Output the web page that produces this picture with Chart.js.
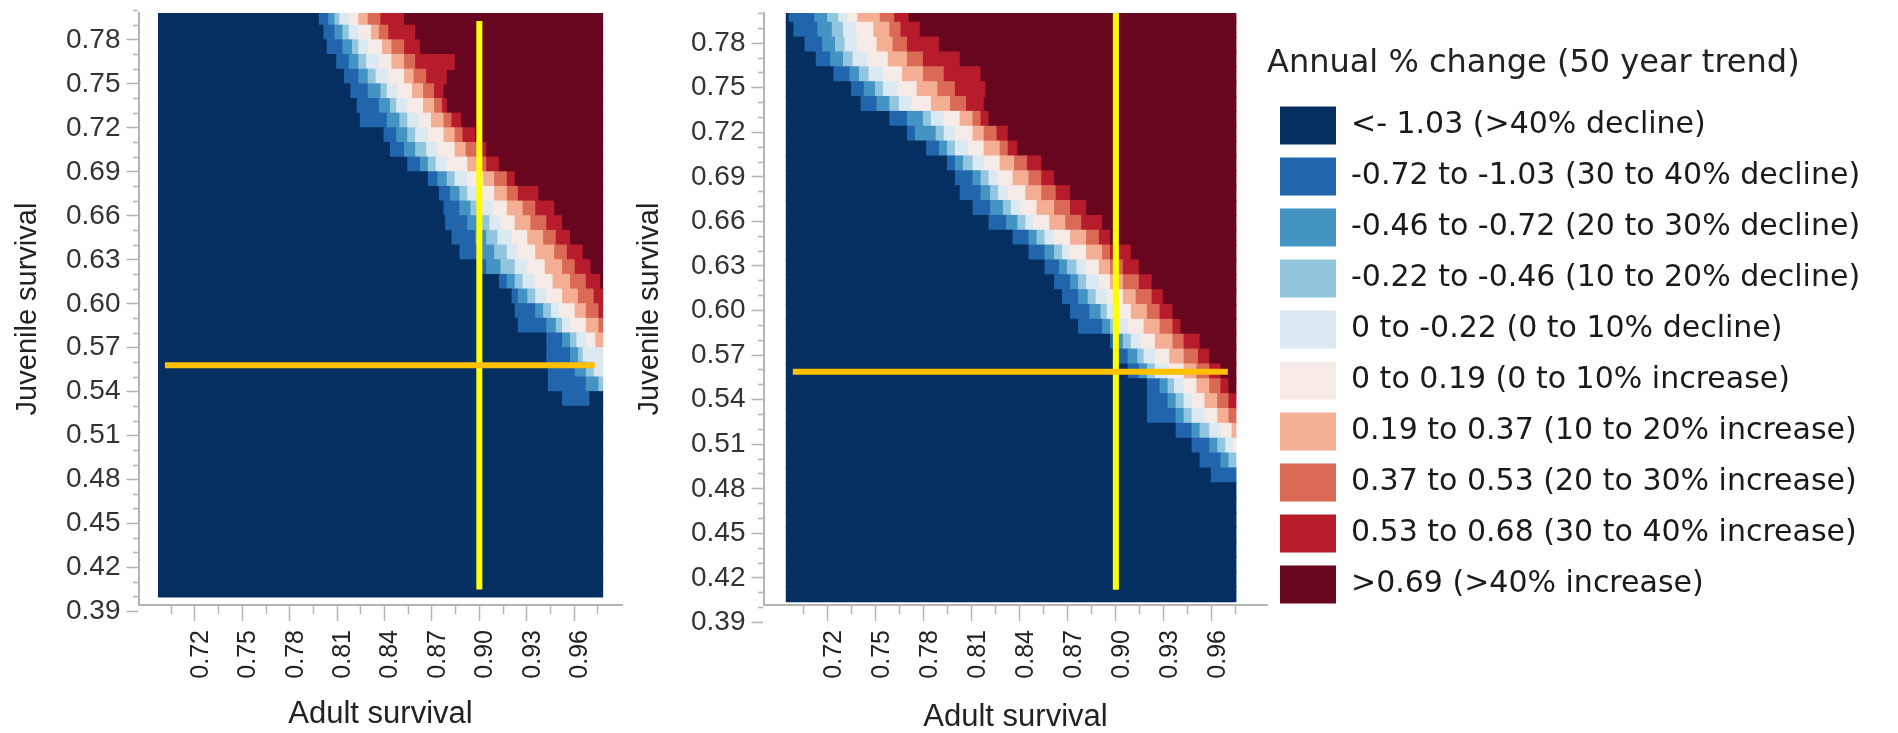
<!DOCTYPE html>
<html>
<head>
<meta charset="utf-8">
<script src="https://cdn.jsdelivr.net/npm/chart.js@4.4.1/dist/chart.umd.min.js"></script>
<style>
  html, body { margin: 0; padding: 0; background: #fff; }
  #wrap { position: relative; width: 1898px; height: 733px; overflow: hidden; }
  #leftBox { position: absolute; left: 0; top: 0; width: 625px; height: 733px; }
  #rightBox { position: absolute; left: 625px; top: 0; width: 1273px; height: 733px; }
</style>
</head>
<body>
<div id="wrap">
  <div id="leftBox"><canvas id="leftChart" width="625" height="733"></canvas></div>
  <div id="rightBox"><canvas id="rightChart" width="1273" height="733"></canvas></div>
</div>
<script>
// legend classes (annual % change)
const classLabels = [
  '<- 1.03 (>40% decline)',
  '-0.72 to -1.03 (30 to 40% decline)',
  '-0.46 to -0.72 (20 to 30% decline)',
  '-0.22 to -0.46 (10 to 20% decline)',
  '0 to -0.22 (0 to 10% decline)',
  '0 to 0.19 (0 to 10% increase)',
  '0.19 to 0.37 (10 to 20% increase)',
  '0.37 to 0.53 (20 to 30% increase)',
  '0.53 to 0.68 (30 to 40% increase)',
  '>0.69 (>40% increase)'
];
const classColors = ['#052f60', '#2166ac', '#4393c3', '#92c5de', '#dce9f1',
                     '#f6ebe7', '#f4ae93', '#da6a55', '#b71c2c', '#68061f'];

const xTickLabels = ['0.72', '0.75', '0.78', '0.81', '0.84', '0.87', '0.90', '0.93', '0.96'];
const yTickLabels = ['0.39', '0.42', '0.45', '0.48', '0.51', '0.54', '0.57', '0.60', '0.63', '0.66', '0.69', '0.72', '0.75', '0.78'];

// heat map grid: 40 rows of 0.01 juvenile survival, top row first
const rowStep = 0.01;
const rowCount = 40;
const leftRowBase = 0.40;
const rightRowBase = 0.404;
const leftExtentX = [0.697, 0.978];
const rightExtentX = [0.694, 0.975];

// per row: adult survival where class 1, 2, 3 ... begins, last value = where that run stops
const leftBreaks = [
  [0.798, 0.804, 0.808, 0.811, 0.817, 0.823, 0.829, 0.837, 0.852, 0.978],
  [0.801, 0.808, 0.813, 0.817, 0.823, 0.831, 0.836, 0.842, 0.859, 0.978],
  [0.803, 0.813, 0.819, 0.823, 0.829, 0.838, 0.844, 0.852, 0.862, 0.978],
  [0.809, 0.817, 0.823, 0.828, 0.836, 0.844, 0.852, 0.859, 0.884, 0.978],
  [0.814, 0.823, 0.829, 0.834, 0.842, 0.852, 0.858, 0.866, 0.879, 0.978],
  [0.818, 0.829, 0.837, 0.841, 0.848, 0.857, 0.864, 0.871, 0.877, 0.978],
  [0.822, 0.836, 0.843, 0.847, 0.854, 0.864, 0.871, 0.876, 0.879, 0.978],
  [0.824, 0.841, 0.849, 0.854, 0.861, 0.869, 0.877, 0.882, 0.888, 0.978],
  [0.839, 0.847, 0.854, 0.859, 0.867, 0.877, 0.884, 0.889, 0.897, 0.978],
  [0.843, 0.852, 0.859, 0.866, 0.873, 0.884, 0.891, 0.898, 0.904, 0.978],
  [0.854, 0.862, 0.867, 0.872, 0.879, 0.892, 0.900, 0.904, 0.912, 0.978],
  [0.867, 0.873, 0.879, 0.884, 0.892, 0.902, 0.909, 0.917, 0.922, 0.978],
  [0.874, 0.881, 0.887, 0.892, 0.900, 0.909, 0.917, 0.924, 0.937, 0.978],
  [0.877, 0.887, 0.894, 0.901, 0.908, 0.917, 0.927, 0.935, 0.947, 0.978],
  [0.878, 0.892, 0.900, 0.906, 0.913, 0.922, 0.932, 0.942, 0.952, 0.978],
  [0.882, 0.897, 0.904, 0.911, 0.920, 0.930, 0.940, 0.948, 0.957, 0.978],
  [0.887, 0.901, 0.909, 0.917, 0.924, 0.935, 0.947, 0.955, 0.965, 0.978],
  [0.900, 0.904, 0.913, 0.922, 0.930, 0.941, 0.952, 0.960, 0.970, 0.978],
  [0.912, 0.917, 0.922, 0.927, 0.935, 0.946, 0.957, 0.967, 0.976, 0.978],
  [0.920, 0.924, 0.930, 0.935, 0.942, 0.952, 0.962, 0.972, 0.978],
  [0.922, 0.935, 0.940, 0.945, 0.950, 0.960, 0.967, 0.975, 0.978],
  [0.924, 0.942, 0.948, 0.952, 0.957, 0.967, 0.975, 0.978],
  [0.942, 0.952, 0.957, 0.961, 0.967, 0.973, 0.978],
  [0.942, 0.957, 0.962, 0.965, 0.978],
  [0.943, 0.960, 0.967, 0.972, 0.978],
  [0.943, 0.967, 0.975, 0.978],
  [0.952, 0.970]
];

const rightBreaks = [
  [0.695, 0.711, 0.719, 0.726, 0.732, 0.738, 0.752, 0.761, 0.770, 0.975],
  [0.698, 0.713, 0.722, 0.729, 0.737, 0.748, 0.758, 0.765, 0.777, 0.975],
  [0.705, 0.716, 0.724, 0.730, 0.738, 0.750, 0.760, 0.769, 0.789, 0.975],
  [0.712, 0.721, 0.729, 0.735, 0.744, 0.757, 0.769, 0.779, 0.802, 0.975],
  [0.723, 0.733, 0.739, 0.745, 0.754, 0.766, 0.779, 0.792, 0.815, 0.975],
  [0.734, 0.742, 0.749, 0.754, 0.763, 0.775, 0.788, 0.799, 0.818, 0.975],
  [0.740, 0.750, 0.758, 0.764, 0.772, 0.784, 0.796, 0.806, 0.817, 0.975],
  [0.758, 0.769, 0.779, 0.784, 0.792, 0.802, 0.810, 0.815, 0.820, 0.975],
  [0.769, 0.774, 0.787, 0.792, 0.799, 0.810, 0.817, 0.825, 0.832, 0.975],
  [0.781, 0.789, 0.794, 0.799, 0.807, 0.817, 0.827, 0.832, 0.838, 0.975],
  [0.794, 0.799, 0.804, 0.810, 0.817, 0.827, 0.836, 0.844, 0.853, 0.975],
  [0.799, 0.810, 0.815, 0.820, 0.826, 0.835, 0.845, 0.853, 0.861, 0.975],
  [0.802, 0.815, 0.821, 0.826, 0.832, 0.843, 0.853, 0.862, 0.871, 0.975],
  [0.810, 0.821, 0.829, 0.834, 0.840, 0.850, 0.861, 0.871, 0.881, 0.975],
  [0.820, 0.831, 0.838, 0.843, 0.848, 0.858, 0.868, 0.878, 0.891, 0.975],
  [0.835, 0.845, 0.850, 0.855, 0.861, 0.871, 0.881, 0.889, 0.896, 0.975],
  [0.845, 0.855, 0.861, 0.866, 0.871, 0.881, 0.891, 0.896, 0.909, 0.975],
  [0.855, 0.864, 0.869, 0.875, 0.881, 0.889, 0.896, 0.904, 0.914, 0.975],
  [0.861, 0.871, 0.876, 0.881, 0.889, 0.896, 0.904, 0.914, 0.922, 0.975],
  [0.866, 0.876, 0.882, 0.887, 0.894, 0.904, 0.912, 0.922, 0.929, 0.975],
  [0.871, 0.883, 0.890, 0.894, 0.900, 0.909, 0.919, 0.927, 0.935, 0.975],
  [0.876, 0.891, 0.896, 0.901, 0.907, 0.917, 0.927, 0.935, 0.940, 0.975],
  [0.896, 0.899, 0.904, 0.909, 0.915, 0.924, 0.935, 0.942, 0.952, 0.975],
  [0.899, 0.907, 0.913, 0.917, 0.924, 0.933, 0.942, 0.951, 0.958, 0.975],
  [0.907, 0.914, 0.919, 0.924, 0.932, 0.942, 0.950, 0.958, 0.965, 0.975],
  [0.919, 0.927, 0.932, 0.936, 0.942, 0.950, 0.958, 0.965, 0.970, 0.975],
  [0.919, 0.932, 0.937, 0.942, 0.947, 0.955, 0.963, 0.970, 0.975],
  [0.919, 0.937, 0.942, 0.947, 0.955, 0.963, 0.970, 0.975],
  [0.937, 0.947, 0.952, 0.958, 0.965, 0.972, 0.975],
  [0.947, 0.958, 0.963, 0.968, 0.973, 0.975],
  [0.952, 0.965, 0.970, 0.975],
  [0.959, 0.975]
];

// reference lines (current adult / juvenile survival)
const refAdult = 0.90;
const leftRefJuvenile = 0.558;
const rightRefJuvenile = 0.5588;
const leftVLineY = [0.405, 0.793];
const rightVLineY = [0.412, 0.8003];
const leftHLineX = [0.701, 0.973];
const rightHLineX = [0.698, 0.970];

Chart.defaults.font.family = "'Liberation Sans', Arial, sans-serif";
const legendFamily = "'DejaVu Sans', sans-serif";

const axisGrey = '#b4b4b4';
const xMajor = xTickLabels.map(Number);
const xTickValues = xMajor.concat(xMajor.map(v => +(v - 0.015).toFixed(3)),
  [+(xMajor[xMajor.length - 1] + 0.015).toFixed(3)]).sort((a, b) => a - b);
const yMajor = yTickLabels.map(Number);
const yTickValues = yMajor.concat(...yMajor.map(v => [+(v + 0.01).toFixed(2), +(v + 0.02).toFixed(2)]))
  .sort((a, b) => a - b);

function labelFor(labels) {
  return function(v) {
    const hit = labels.find(l => Math.abs(+l - v) < 1e-6);
    return hit === undefined ? '' : hit;
  };
}
const isMinor = c => c.tick && c.tick.label === '';

function heatDatasets(breaks, base, extent) {
  const sets = classLabels.map((label, k) => ({
    type: 'bar',
    label: label,
    indexAxis: 'y',
    grouped: false,
    backgroundColor: classColors[k],
    borderWidth: 0,
    inflateAmount: 0.6,
    barPercentage: 1,
    categoryPercentage: 1,
    order: 1,
    data: []
  }));
  for (let i = 0; i < rowCount; i++) {
    const yc = Math.round((base + (rowCount - 1 - i) * rowStep + rowStep / 2) * 10000) / 10000;
    const b = breaks[i] || [];
    if (!b.length) {
      sets[0].data.push({y: yc, x: [extent[0], extent[1]]});
      continue;
    }
    if (b[0] > extent[0]) sets[0].data.push({y: yc, x: [extent[0], b[0]]});
    for (let k = 0; k < b.length - 1; k++) {
      sets[k + 1].data.push({y: yc, x: [b[k], b[k + 1]]});
    }
    const end = b[b.length - 1];
    if (end < extent[1]) sets[0].data.push({y: yc, x: [end, extent[1]]});
  }
  return sets;
}

function guideLines(vY, hX, hY) {
  return [
    {type: 'line', label: 'adult', data: [{x: refAdult, y: vY[0]}, {x: refAdult, y: vY[1]}],
     borderColor: '#ffff00', borderWidth: 6, pointRadius: 0, tension: 0, order: 0},
    {type: 'line', label: 'juvenile', data: [{x: hX[0], y: hY}, {x: hX[1], y: hY}],
     borderColor: '#ffc000', borderWidth: 6, pointRadius: 0, tension: 0, order: -1}
  ];
}

function scales(xr, yr, xTitleBottom, yTitleTop) {
  return {
    x: {
      type: 'linear', min: xr[0], max: xr[1], bounds: 'data', offset: false, beginAtZero: false,
      afterBuildTicks: s => { s.ticks = xTickValues.map(v => ({value: v})); },
      afterFit: s => { s.height = 128; s.paddingLeft = 0; s.paddingRight = 0; },
      ticks: {autoSkip: false, minRotation: 90, maxRotation: 90, padding: 9, labelOffset: 6,
              color: '#222', font: {size: 25}, callback: labelFor(xTickLabels)},
      grid: {drawOnChartArea: false, offset: false, tickLength: 16, tickWidth: 1.5, tickColor: axisGrey,
             tickBorderDash: c => isMinor(c) ? [8, 100] : []},
      border: {color: axisGrey, width: 2},
      title: {display: true, text: 'Adult survival', color: '#222',
              font: {size: 31, lineHeight: 1}, padding: {top: 0, bottom: xTitleBottom}}
    },
    y: {
      type: 'linear', min: yr[0], max: yr[1], bounds: 'data', offset: false, beginAtZero: false,
      afterBuildTicks: s => { s.ticks = yTickValues.map(v => ({value: v})); },
      afterFit: s => { s.width = 139; s.paddingTop = 0; s.paddingBottom = 0; },
      ticks: {autoSkip: false, padding: 6, color: '#333', font: {size: 28},
              callback: labelFor(yTickLabels)},
      grid: {drawOnChartArea: false, offset: false, tickLength: 12.5, tickWidth: 1.5, tickColor: axisGrey,
             tickBorderDash: c => isMinor(c) ? [0, 6.5, 5, 100] : []},
      border: {color: axisGrey, width: 2},
      title: {display: true, text: 'Juvenile survival', color: '#222',
              font: {size: 29}, padding: {top: yTitleTop, bottom: 0}}
    }
  };
}

new Chart(document.getElementById('leftChart'), {
  type: 'bar',
  data: {
    datasets: heatDatasets(leftBreaks, leftRowBase, leftExtentX)
      .concat(guideLines(leftVLineY, leftHLineX, leftRefJuvenile))
  },
  options: {
    responsive: false, animation: false, devicePixelRatio: 1, events: [],
    layout: {padding: {left: 0, right: 3, top: 13, bottom: 0}},
    scales: scales([0.6846, 0.9903], [0.3945, 0.7984], 3.5, 10.6),
    plugins: {legend: {display: false}, tooltip: {enabled: false}}
  }
});

// legend sits to the right of the right panel; size the right padding so the plot ends where the legend begins
const legendFontSize = 30, legendBox = 56, legendPad = 13, legendLeft = 642;
const measure = document.createElement('canvas').getContext('2d');
measure.font = legendFontSize + 'px ' + legendFamily;
const widestLabel = Math.max(...classLabels.map(t => measure.measureText(t).width));
const legendWidth = legendPad + legendBox + legendFontSize / 2 + widestLabel + 10;
const rightPad = Math.max(0, 1273 - legendLeft - legendWidth);

new Chart(document.getElementById('rightChart'), {
  type: 'bar',
  data: {
    datasets: heatDatasets(rightBreaks, rightRowBase, rightExtentX)
      .concat(guideLines(rightVLineY, rightHLineX, rightRefJuvenile))
  },
  options: {
    responsive: false, animation: false, devicePixelRatio: 1, events: [],
    layout: {padding: {left: 0, right: rightPad, top: 13, bottom: 0}},
    scales: scales([0.6800, 0.9945], [0.4018, 0.8003], 0, 7.6),
    plugins: {
      tooltip: {enabled: false},
      legend: {
        position: 'right',
        align: 'start',
        maxWidth: 900,
        title: {display: true, text: 'Annual % change (50 year trend)', color: '#222',
                position: 'start', font: {family: legendFamily, size: 32}, padding: {top: 35, bottom: 7}},
        labels: {
          boxWidth: legendBox, boxHeight: 38, padding: legendPad, color: '#1a1a1a',
          font: {family: legendFamily, size: legendFontSize},
          filter: item => item.datasetIndex < classLabels.length
        }
      }
    }
  }
});
</script>
</body>
</html>
